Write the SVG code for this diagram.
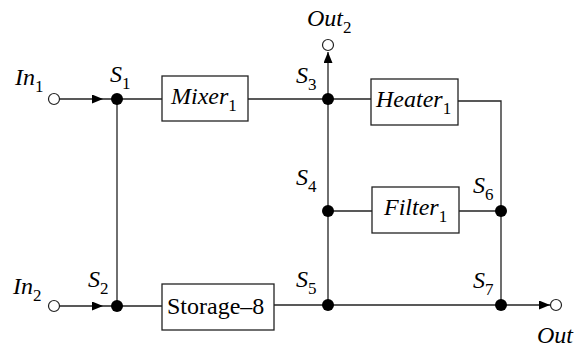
<svg xmlns="http://www.w3.org/2000/svg" width="575" height="353" viewBox="0 0 575 353">
<style>
.ln{stroke:#222;stroke-width:1.3;fill:none}
.box{stroke:#222;stroke-width:1.3;fill:#fff}
.dot{fill:#000}
.port{fill:#fff;stroke:#222;stroke-width:1.2}
.it{font-style:italic;font-size:24px}
.rm{font-size:24px}
.sb{font-size:17px;font-style:normal}
</style>
<defs>
<marker id="ah" markerUnits="userSpaceOnUse" markerWidth="12" markerHeight="10" refX="11" refY="4.5" orient="auto">
<path d="M0,0 L11,4.5 L0,9 z" fill="#000"/>
</marker>
</defs>
<g id="connectors">
<path class="ln" d="M59,99 L103,99" marker-end="url(#ah)"/>
<path class="ln" d="M103,99 L162,99"/>
<path class="ln" d="M59,306 L103,306" marker-end="url(#ah)"/>
<path class="ln" d="M103,306 L162,306"/>
<path class="ln" d="M117,99 L117,306"/>
<path class="ln" d="M248,99 L371,99"/>
<path class="ln" d="M274,305 L501,305"/>
<path class="ln" d="M328,99 L328,52" marker-end="url(#ah)"/>
<path class="ln" d="M328,99 L328,305"/>
<path class="ln" d="M328,211 L372,211"/>
<path class="ln" d="M459,211 L501,211"/>
<path class="ln" d="M458,101 L501,101 L501,305"/>
<path class="ln" d="M501,305 L550,305" marker-end="url(#ah)"/>
</g>
<g id="In1"><circle class="port" cx="54" cy="99" r="5.5"/><text font-family="Liberation Serif, serif" class="it" x="15" y="85">In<tspan class="sb" dy="7">1</tspan></text></g>
<g id="In2"><circle class="port" cx="54" cy="306" r="5.5"/><text font-family="Liberation Serif, serif" class="it" x="13" y="294">In<tspan class="sb" dy="7">2</tspan></text></g>
<g id="Out2"><circle class="port" cx="328" cy="45" r="5.5"/><text font-family="Liberation Serif, serif" class="it" x="307" y="26">Out<tspan class="sb" dy="7">2</tspan></text></g>
<g id="Out"><circle class="port" cx="556" cy="305" r="5.5"/><text font-family="Liberation Serif, serif" class="it" x="537" y="343">Out</text></g>
<g id="S1"><circle class="dot" cx="117" cy="99" r="6"/><text font-family="Liberation Serif, serif" class="it" x="110" y="82">S<tspan class="sb" dy="7">1</tspan></text></g>
<g id="S2"><circle class="dot" cx="117" cy="306" r="6"/><text font-family="Liberation Serif, serif" class="it" x="88" y="287">S<tspan class="sb" dy="7">2</tspan></text></g>
<g id="S3"><circle class="dot" cx="328" cy="99" r="6"/><text font-family="Liberation Serif, serif" class="it" x="296" y="83">S<tspan class="sb" dy="7">3</tspan></text></g>
<g id="S4"><circle class="dot" cx="328" cy="211" r="6"/><text font-family="Liberation Serif, serif" class="it" x="296" y="185">S<tspan class="sb" dy="7">4</tspan></text></g>
<g id="S5"><circle class="dot" cx="328" cy="305" r="6"/><text font-family="Liberation Serif, serif" class="it" x="296" y="287">S<tspan class="sb" dy="7">5</tspan></text></g>
<g id="S6"><circle class="dot" cx="501" cy="211" r="6"/><text font-family="Liberation Serif, serif" class="it" x="473" y="193">S<tspan class="sb" dy="7">6</tspan></text></g>
<g id="S7"><circle class="dot" cx="501" cy="305" r="6"/><text font-family="Liberation Serif, serif" class="it" x="473" y="288">S<tspan class="sb" dy="7">7</tspan></text></g>
<g id="Mixer"><rect class="box" x="162" y="76" width="86" height="45"/><text font-family="Liberation Serif, serif" class="it" x="171" y="104">Mixer<tspan class="sb" dy="7">1</tspan></text></g>
<g id="Heater"><rect class="box" x="371" y="79" width="87" height="46"/><text font-family="Liberation Serif, serif" class="it" x="376" y="107">Heater<tspan class="sb" dy="7">1</tspan></text></g>
<g id="Filter"><rect class="box" x="372" y="187" width="87" height="46"/><text font-family="Liberation Serif, serif" class="it" x="384" y="215">Filter<tspan class="sb" dy="7">1</tspan></text></g>
<g id="Storage"><rect class="box" x="162" y="284" width="112" height="46"/><text font-family="Liberation Serif, serif" class="rm" x="167" y="314">Storage–8</text></g>
</svg>
